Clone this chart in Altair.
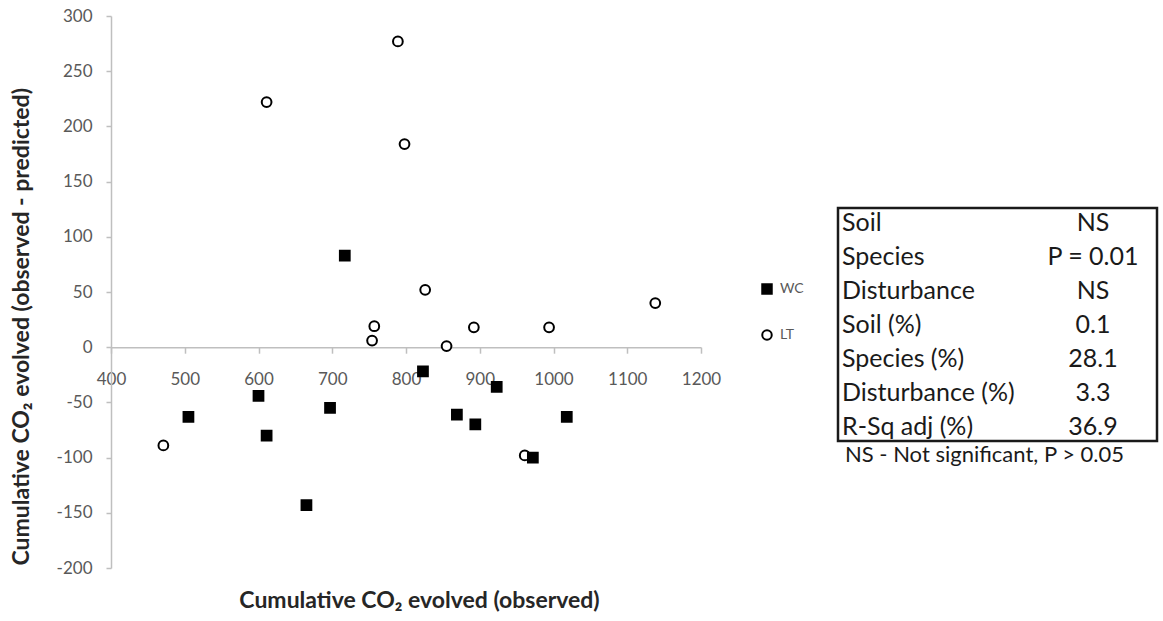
import altair as alt
import pandas as pd

# ---- data ----
lt_x = [611, 789, 798, 826, 1138, 757, 754, 855, 892, 994, 961, 471]
lt_y = [222, 277, 184, 52, 40, 19, 6, 1, 18, 18, -98, -89]
wc_x = [717, 505, 600, 611, 697, 665, 823, 923, 869, 894, 1018, 972]
wc_y = [83, -63, -44, -80, -55, -143, -22, -36, -61, -70, -63, -100]
groups = ["WC", "LT"]

x_ticks = [400, 500, 600, 700, 800, 900, 1000, 1100, 1200]
y_ticks = [-200, -150, -100, -50, 0, 50, 100, 150, 200, 250, 300]

table_labels = ["Soil", "Species", "Disturbance", "Soil (%)", "Species (%)",
                "Disturbance (%)", "R-Sq adj (%)"]
table_values = ["NS", "P = 0.01", "NS", "0.1", "28.1", "3.3", "36.9"]
note_text = "NS - Not significant, P > 0.05"

x_title = "Cumulative CO\u2082 evolved (observed)"
y_title = "Cumulative CO\u2082 evolved (observed - predicted)"

# ---- layout ----
W, H = 590, 552
FONT = "Lato"
AXIS_GRAY = "#bfbfbf"
LABEL_GRAY = "#595959"
TITLE_COL = "#262626"
PLAIN_LABEL = "'' + datum.value"

pts = pd.DataFrame({
    "x": lt_x + wc_x,
    "y": lt_y + wc_y,
    "group": ["LT"] * len(lt_x) + ["WC"] * len(wc_x),
})

legend = alt.Legend(
    orient="none", legendX=649, legendY=266, title=None,
    labelFont=FONT, labelFontSize=14, labelColor=LABEL_GRAY,
    symbolSize=90, symbolStrokeWidth=2, symbolStrokeColor="black",
    rowPadding=28, labelOffset=6, padding=0,
)

zero_offset = -(H - H * 300 / 500)

points = alt.Chart(pts).mark_point(
    size=95, strokeWidth=2, fillOpacity=1, opacity=1
).encode(
    x=alt.X("x:Q", scale=alt.Scale(domain=[400, 1200], nice=False, zero=False),
            axis=alt.Axis(
                values=x_ticks, orient="bottom", offset=zero_offset, grid=False,
                domainColor=AXIS_GRAY, tickColor=AXIS_GRAY, domainWidth=1.5,
                tickWidth=1.5, tickSize=6, labelFont=FONT, labelFontSize=17,
                labelColor=LABEL_GRAY, labelPadding=18, labelFlush=False,
                labelOverlap=False, labelExpr=PLAIN_LABEL,
                title=x_title, titleFont=FONT,
                titleFontSize=23, titleFontWeight="bold", titleColor=TITLE_COL,
                titleX=308, titleY=260, titleAlign="center",
                titleBaseline="alphabetic",
            )),
    y=alt.Y("y:Q", scale=alt.Scale(domain=[-200, 300], nice=False, zero=False),
            axis=alt.Axis(
                values=y_ticks, grid=False, domainColor=AXIS_GRAY,
                tickColor=AXIS_GRAY, domainWidth=1.5, tickWidth=1.5, tickSize=5,
                labelFont=FONT, labelFontSize=17, labelColor=LABEL_GRAY,
                labelPadding=14, labelFlush=False, labelOverlap=False,
                labelExpr=PLAIN_LABEL,
                title=y_title, titleFont=FONT, titleFontSize=23,
                titleFontWeight="bold", titleColor=TITLE_COL, titleAngle=270,
                titleX=-83, titleY=549, titleAlign="left",
                titleBaseline="alphabetic",
            )),
    shape=alt.Shape("group:N", scale=alt.Scale(domain=groups, range=["square", "circle"]),
                    legend=legend),
    fill=alt.Fill("group:N", scale=alt.Scale(domain=groups, range=["black", "white"]),
                  legend=legend),
    stroke=alt.Stroke("group:N", scale=alt.Scale(domain=groups, range=["black", "black"]),
                      legend=legend),
)

# ---- statistics table ----
tdf = pd.DataFrame({"row": list(range(len(table_labels))),
                    "label": table_labels, "value": table_values})
tbase = alt.Chart(tdf).encode(
    y=alt.Y("row:O", scale=alt.Scale(type="point", range=[215, 419], padding=0),
            axis=None)
)
t_labels = tbase.mark_text(align="left", baseline="alphabetic", font=FONT,
                           fontSize=25, color="#1a1a1a").encode(
    x=alt.value(731), text="label:N")
t_values = tbase.mark_text(align="center", baseline="alphabetic", font=FONT,
                           fontSize=25, color="#1a1a1a").encode(
    x=alt.value(982), text="value:N")
table = alt.layer(t_labels, t_values)

one = pd.DataFrame({"k": [0]})
box = alt.Chart(one).mark_rect(fill="transparent", stroke="#1a1a1a",
                               strokeWidth=2.5).encode(
    x=alt.value(727), x2=alt.value(1046), y=alt.value(192), y2=alt.value(425))
note = alt.Chart(one).mark_text(align="left", baseline="alphabetic", font=FONT,
                                fontSize=22, color="#1a1a1a").encode(
    x=alt.value(734), y=alt.value(446), text=alt.value(note_text))

chart = alt.layer(points, box, table, note).resolve_scale(
    y="independent"
).properties(
    width=W, height=H,
    autosize=alt.AutoSizeParams(type="none"),
    padding={"left": 111, "top": 16, "right": 1163 - 111 - W, "bottom": 621 - 16 - H},
    background="white",
).configure_view(strokeWidth=0)

chart.save("out.html", embed_options={"renderer": "svg", "actions": False})
